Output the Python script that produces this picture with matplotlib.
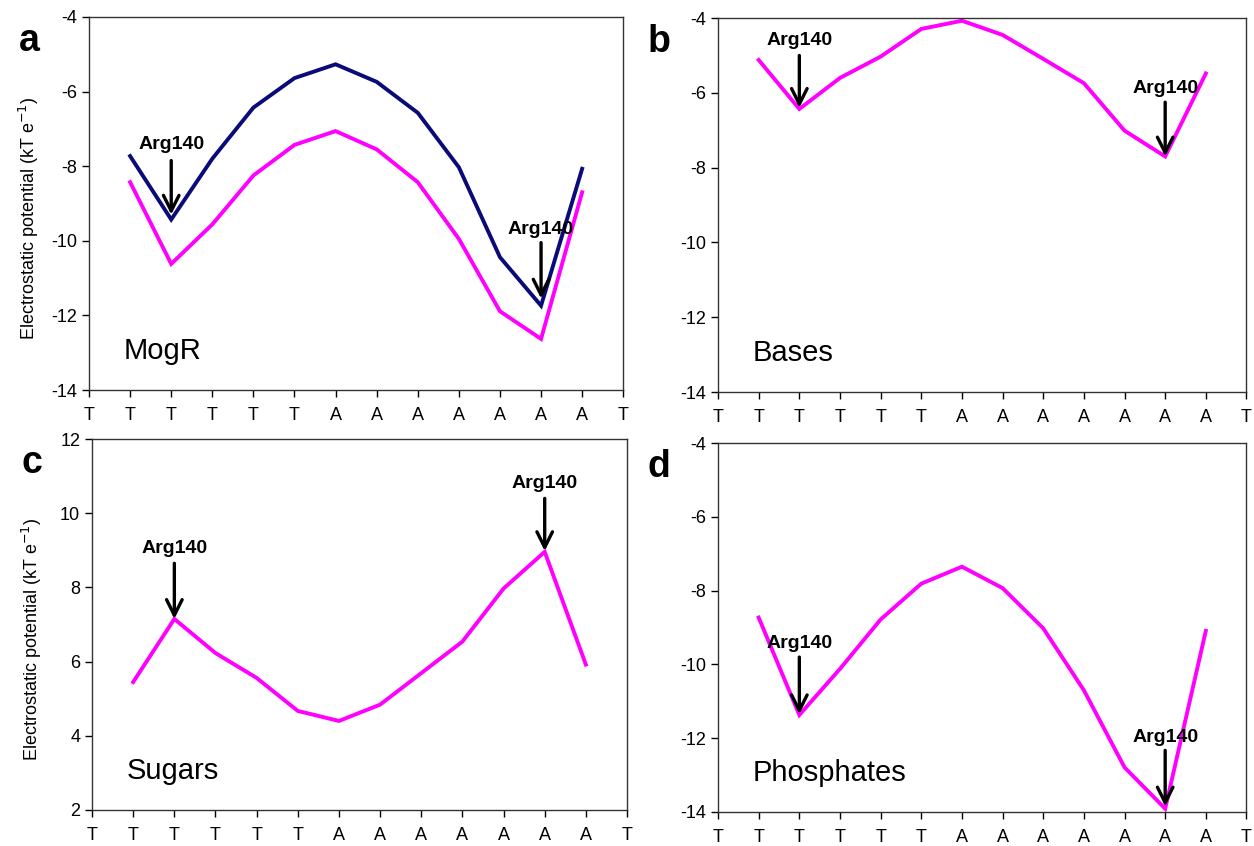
import matplotlib
matplotlib.use('agg')
import matplotlib.pyplot as plt

plt.rcParams['font.family'] = ['Liberation Sans', 'DejaVu Sans']
plt.rcParams['axes.unicode_minus'] = False

# sequence along the x axis (positions 0..13), data sit on 1..12
seq = ['T', 'T', 'T', 'T', 'T', 'T', 'A', 'A', 'A', 'A', 'A', 'A', 'A', 'T']
pos = list(range(1, 13))

mogr_blue = [-7.73, -9.43, -7.80, -6.43, -5.64, -5.27, -5.74, -6.57, -8.03, -10.44, -11.74, -8.07]
mogr_pink = [-8.43, -10.62, -9.56, -8.25, -7.43, -7.06, -7.55, -8.43, -9.95, -11.89, -12.63, -8.70]
bases = [-5.12, -6.43, -5.60, -5.03, -4.29, -4.07, -4.45, -5.09, -5.74, -7.01, -7.70, -5.48]
sugars = [5.45, 7.15, 6.23, 5.56, 4.67, 4.40, 4.84, 5.69, 6.54, 7.97, 8.96, 5.92]
phosphates = [-8.73, -11.37, -10.12, -8.78, -7.81, -7.35, -7.93, -9.02, -10.70, -12.79, -13.91, -9.09]

# arrow annotations: (x, text centre y, arrow tail y, arrow head y)
arrows_a = [(2, -7.43, -7.85, -9.3), (11, -9.7, -10.05, -11.55)]
arrows_b = [(2, -4.59, -5.0, -6.4), (11, -5.87, -6.25, -7.7)]
arrows_c = [(2, 9.04, 8.65, 7.15), (11, 10.79, 10.4, 8.98)]
arrows_d = [(2, -9.42, -9.8, -11.35), (11, -11.97, -12.33, -13.85)]

fig = plt.figure(figsize=(12.54, 8.46), dpi=100)

panels = [
    ([0.071, 0.539, 0.426, 0.441], 'a', 'MogR', (-14, -4), [mogr_blue, mogr_pink], arrows_a, True),
    ([0.5726, 0.5366, 0.4214, 0.442], 'b', 'Bases', (-14, -4), [bases], arrows_b, False),
    ([0.0734, 0.0426, 0.4266, 0.4384], 'c', 'Sugars', (2, 12), [sugars], arrows_c, True),
    ([0.5726, 0.0402, 0.4214, 0.436], 'd', 'Phosphates', (-14, -4), [phosphates], arrows_d, False),
]

for rect, letter, name, ylim, series, arrows, ylab in panels:
    ax = fig.add_axes(rect)
    colors = ['#0a0a78', '#ff00ff'] if len(series) == 2 else ['#ff00ff']
    for s, c in zip(series, colors):
        ax.plot(pos, s, color=c, lw=2.8, solid_joinstyle='miter')
    ax.set_xlim(0, 13)
    ax.set_ylim(*ylim)
    ax.set_yticks(range(ylim[0], ylim[1] + 1, 2))
    ax.set_xticks(range(len(seq)))
    ax.set_xticklabels(seq)
    ax.tick_params(axis='both', direction='out', length=5, width=1, labelsize=13)
    ax.tick_params(axis='x', pad=7)
    for sp in ax.spines.values():
        sp.set_linewidth(1)
        sp.set_color('#333333')
    if ylab:
        ax.set_ylabel('Electrostatic potential (kT e$^{-1}$)', fontsize=13)
        ax.yaxis.set_label_coords(-0.09, 0.46)
    for x, ty, y0, y1 in arrows:
        ax.annotate('', xy=(x, y1), xytext=(x, y0),
                    arrowprops=dict(arrowstyle='->', lw=2.4, color='black',
                                    mutation_scale=28, shrinkA=0, shrinkB=0))
        ax.text(x, ty, 'Arg140', ha='center', va='center', fontsize=14, fontweight='bold')
    ax.text(0.065, 0.105, name, transform=ax.transAxes, fontsize=21, ha='left', va='center')
    ax.text(-0.112, 0.935, letter, transform=ax.transAxes, fontsize=27, fontweight='bold',
            ha='center', va='center')

fig.savefig('out.png', dpi=100)
